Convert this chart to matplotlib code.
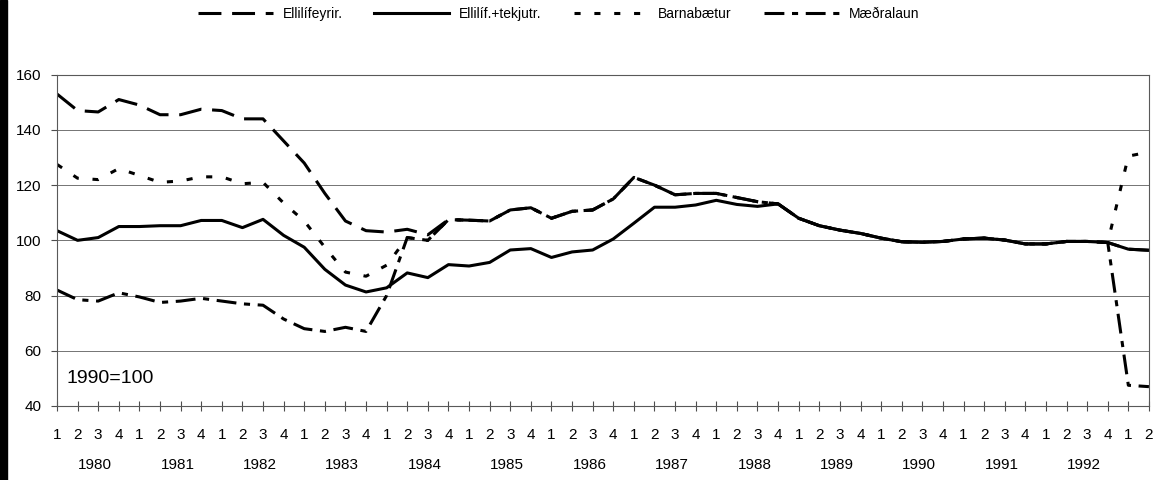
import matplotlib
matplotlib.use("Agg")
import matplotlib.pyplot as plt
import matplotlib.transforms as mtransforms
from matplotlib.patches import Rectangle

plt.rcParams['font.family'] = ['Liberation Sans', 'DejaVu Sans']

# quarters 1980 Q1 .. 1993 Q2, index 1990=100
quarters = ['1', '2', '3', '4'] * 13 + ['1', '2']
years = ['1980', '1981', '1982', '1983', '1984', '1985', '1986',
         '1987', '1988', '1989', '1990', '1991', '1992']

ellilifeyrir = [153, 147, 146.5, 151, 149, 145.5, 145.5, 147.5, 147, 144,
                144, 136, 128, 117, 107, 103.5, 103, 104, 102, 107.5,
                107.3, 107, 111, 111.8, 108, 110.5, 111, 115, 122.8, 120,
                116.5, 117, 117, 115.5, 114, 113.2, 108, 105.3, 103.7, 102.5,
                100.8, 99.5, 99.3, 99.6, 100.5, 100.8, 100.1, 98.7, 98.7, 99.6,
                99.6, 99.2, 96.8, 96.4]

tekjutr = [103.5, 100, 101, 105, 105, 105.3, 105.3, 107.2, 107.2, 104.6,
           107.6, 101.8, 97.5, 89.5, 83.8, 81.3, 82.8, 88.2, 86.5, 91.2,
           90.7, 92, 96.5, 97, 93.8, 95.8, 96.5, 100.5, 106.2, 112,
           112, 112.8, 114.5, 113, 112.3, 113.2, 108, 105.3, 103.7, 102.5,
           100.8, 99.5, 99.3, 99.6, 100.5, 100.8, 100.1, 98.7, 98.7, 99.6,
           99.6, 99.2, 96.8, 96.4]

barnabaetur = [127.5, 122.5, 122, 126, 123.5, 121, 121.5, 123, 123, 120.5,
               121, 113.5, 107, 97.5, 88.5, 87, 91, 101, 100, 107.5,
               107.3, 107, 111, 111.8, 108, 110.5, 111, 115, 122.8, 120,
               116.5, 117, 117, 115.5, 114, 113.2, 108, 105.3, 103.7, 102.5,
               100.8, 99.5, 99.3, 99.6, 100.5, 100.8, 100.1, 98.7, 98.7, 99.6,
               99.6, 99.2, 130.5, 132]

maedralaun = [82, 78.5, 78, 81, 79.5, 77.5, 78, 79, 78, 77,
              76.5, 71.5, 68, 67, 68.5, 67, 80, 101, 100, 107.5,
              107.3, 107, 111, 111.8, 108, 110.5, 111, 115, 122.8, 120,
              116.5, 117, 117, 115.5, 114, 113.2, 108, 105.3, 103.7, 102.5,
              100.8, 99.5, 99.3, 99.6, 100.5, 100.8, 100.1, 98.7, 98.7, 99.6,
              99.6, 99.2, 47.5, 47]

fig = plt.figure(figsize=(11.56, 4.8), dpi=100)
ax = fig.add_axes([0.0493, 0.1542, 0.9446, 0.6902])

x = list(range(len(quarters)))
lw = 2.2
l1, = ax.plot(x, ellilifeyrir, color='black', lw=lw, dashes=(7.5, 3.5), label='Ellilífeyrir.')
l2, = ax.plot(x, tekjutr, color='black', lw=lw, label='Ellilíf.+tekjutr.')
l3, = ax.plot(x, barnabaetur, color='black', lw=lw, dashes=(2, 4.5), label='Barnabætur')
l4, = ax.plot(x, maedralaun, color='black', lw=lw, dashes=(6.5, 2.5, 2, 2.5), label='Mæðralaun')

ax.set_xlim(0, len(quarters) - 1)
ax.set_ylim(40, 160)
ax.set_yticks(range(40, 161, 20))
ax.set_xticks(x)
ax.set_xticklabels(quarters)
ax.tick_params(axis='x', direction='inout', length=7, pad=12, labelsize=11, color='0.3', width=0.8)
ax.tick_params(axis='y', direction='out', length=4, pad=7, labelsize=11, color='0.3', width=0.8)
ax.yaxis.grid(True, color='0.45', lw=0.7)
ax.set_axisbelow(True)
for s in ax.spines.values():
    s.set_color('0.35')
    s.set_linewidth(0.8)

# year labels under each group of quarters
trans = mtransforms.blended_transform_factory(ax.transData, fig.transFigure)
for k, yr in enumerate(years):
    ax.text(4 * k + 1.85, 1 - 465 / 480, yr, transform=trans, ha='center', va='center', fontsize=11)

ax.text(0.45, 50, '1990=100', fontsize=14, va='center')

fig.legend(handles=[l1, l2, l3, l4], loc='center', bbox_to_anchor=(0.483, 1 - 14 / 480),
           ncol=4, frameon=False, fontsize=10, handlelength=5.4, handletextpad=0.7,
           columnspacing=2.3)

# dark scan edge on the left
fig.patches.append(Rectangle((0, 0), 7 / 1156, 1, transform=fig.transFigure, color='black'))

fig.savefig('out.png', dpi=100)
